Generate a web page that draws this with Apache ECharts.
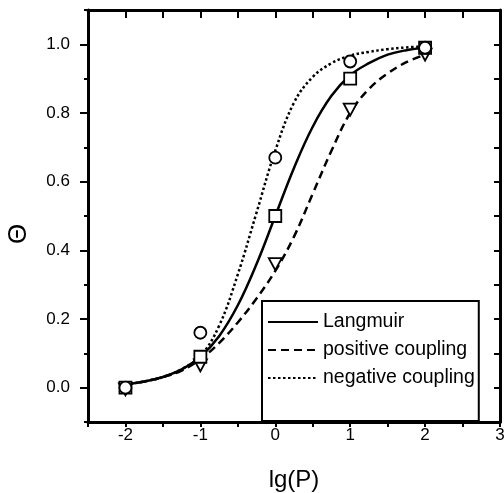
<!DOCTYPE html>
<html>
<head>
<meta charset="utf-8">
<script src="https://cdn.jsdelivr.net/npm/echarts@6/dist/echarts.min.js"></script>
<style>html,body{margin:0;padding:0;background:#fff;}#c{width:504px;height:493px;}</style>
</head>
<body>
<div id="c"></div>
<script>
// ---- data ----
const xCurve = [-2, -1.75, -1.5, -1.25, -1, -0.75, -0.5, -0.25, 0, 0.25, 0.5, 0.75, 1, 1.25, 1.5, 1.75, 2];
const langmuirCurve = [0.01, 0.018, 0.031, 0.053, 0.09, 0.15, 0.24, 0.36, 0.5, 0.64, 0.76, 0.85, 0.91, 0.945, 0.97, 0.983, 0.99];
const positiveCurve = [0.01, 0.018, 0.031, 0.05, 0.083, 0.13, 0.19, 0.26, 0.34, 0.44, 0.565, 0.69, 0.8, 0.87, 0.915, 0.948, 0.97];
const negativeCurve = [0.01, 0.018, 0.031, 0.054, 0.092, 0.18, 0.33, 0.51, 0.69, 0.83, 0.905, 0.945, 0.967, 0.978, 0.986, 0.991, 0.994];

const xPoints = [-2, -1, 0, 1, 2];
const squarePoints = [0.0, 0.09, 0.5, 0.9, 0.99];
const circlePoints = [0.0, 0.16, 0.67, 0.95, 0.99];
const trianglePoints = [-0.005, 0.065, 0.36, 0.81, 0.97];

const yLabelValues = [0, 0.2, 0.4, 0.6, 0.8, 1.0];
const seriesNames = ['Langmuir', 'positive coupling', 'negative coupling'];

const FONT = '"Liberation Sans", Arial, Helvetica, sans-serif';
const pair = (xs, ys) => xs.map((x, i) => [x, ys[i]]);

const chart = echarts.init(document.getElementById('c'), null, {renderer: 'canvas'});

const lineBase = {type: 'line', smooth: 0.4, symbol: 'none', showSymbol: false, z: 2, silent: true};
const markerStyle = {color: '#fff', borderColor: '#000', borderWidth: 1.8, opacity: 1};

const option = {
  animation: false,
  backgroundColor: '#fff',
  grid: {left: 88, right: 4, top: 10, bottom: 71, containLabel: false, outerBoundsMode: 'none'},
  legend: {
    data: seriesNames,
    orient: 'vertical',
    left: 262,
    top: 301,
    padding: [11, 4, 33, 5],
    itemGap: 8,
    itemWidth: 50,
    itemHeight: 14,
    borderColor: '#000',
    borderWidth: 2,
    itemStyle: {opacity: 0},
    textStyle: {fontFamily: FONT, fontSize: 19.5, color: '#000'}
  },
  xAxis: [
    {
      type: 'value', position: 'bottom', min: -2.5, max: 3, interval: 0.5,
      axisLine: {show: true, onZero: false, lineStyle: {color: '#000', width: 3}},
      axisTick: {show: true, inside: false, length: 5, lineStyle: {color: '#000', width: 2}},
      axisLabel: {
        margin: 5, fontFamily: FONT, fontSize: 17, color: '#000',
        formatter: v => Number.isInteger(v) ? String(v) : ''
      },
      splitLine: {show: false},
      name: 'lg(P)', nameLocation: 'middle', nameGap: 46,
      nameTextStyle: {fontFamily: FONT, fontSize: 24, color: '#000'}
    },
    {
      type: 'value', position: 'top', min: -2.5, max: 3, interval: 0.5,
      axisLine: {show: true, onZero: false, lineStyle: {color: '#000', width: 3}},
      axisTick: {show: true, inside: true, length: 8, lineStyle: {color: '#000', width: 2}},
      axisLabel: {show: false}, splitLine: {show: false}
    }
  ],
  yAxis: [
    {
      type: 'value', position: 'left', min: -0.1, max: 1.1, interval: 0.1,
      axisLine: {show: true, onZero: false, lineStyle: {color: '#000', width: 3}},
      axisTick: {show: true, inside: false, length: 8, customValues: yLabelValues, lineStyle: {color: '#000', width: 2}},
      axisLabel: {
        margin: 18, fontFamily: FONT, fontSize: 17, color: '#000',
        customValues: yLabelValues, formatter: v => v.toFixed(1)
      },
      splitLine: {show: false},
      name: 'Θ', nameLocation: 'middle', nameGap: 56, nameRotate: 90,
      nameTextStyle: {fontFamily: FONT, fontSize: 26, color: '#000', padding: [0, 36, 0, 0]}
    },
    {
      type: 'value', position: 'left', min: -0.1, max: 1.1, interval: 0.1,
      axisLine: {show: false, onZero: false},
      axisTick: {show: true, inside: false, length: 4, lineStyle: {color: '#000', width: 2}},
      axisLabel: {show: false}, splitLine: {show: false}
    },
    {
      type: 'value', position: 'right', min: -0.1, max: 1.1, interval: 0.1,
      axisLine: {show: true, onZero: false, lineStyle: {color: '#000', width: 3}},
      axisTick: {show: true, inside: true, length: 6, lineStyle: {color: '#000', width: 2}},
      axisLabel: {show: false}, splitLine: {show: false}
    }
  ],
  series: [
    Object.assign({}, lineBase, {
      name: seriesNames[0], data: pair(xCurve, langmuirCurve),
      lineStyle: {color: '#000', width: 2.5, type: 'solid'}, itemStyle: {color: '#000'}
    }),
    Object.assign({}, lineBase, {
      name: seriesNames[1], data: pair(xCurve, positiveCurve),
      lineStyle: {color: '#000', width: 2.5, type: [8, 5]}, itemStyle: {color: '#000'}
    }),
    Object.assign({}, lineBase, {
      name: seriesNames[2], data: pair(xCurve, negativeCurve),
      lineStyle: {color: '#000', width: 2.5, type: [2.5, 2.5]}, itemStyle: {color: '#000'}
    }),
    {
      type: 'scatter', name: 'squares', data: pair(xPoints, squarePoints),
      symbol: 'rect', symbolSize: 12, itemStyle: markerStyle, z: 5, silent: true
    },
    {
      type: 'scatter', name: 'triangles', data: pair(xPoints, trianglePoints),
      symbol: 'triangle', symbolRotate: 180, symbolSize: [13, 12], itemStyle: markerStyle, z: 4, silent: true
    },
    {
      type: 'scatter', name: 'circles', data: pair(xPoints, circlePoints),
      symbol: 'circle', symbolSize: 12, itemStyle: markerStyle, z: 6, silent: true
    }
  ]
};
chart.setOption(option);
</script>
</body>
</html>
